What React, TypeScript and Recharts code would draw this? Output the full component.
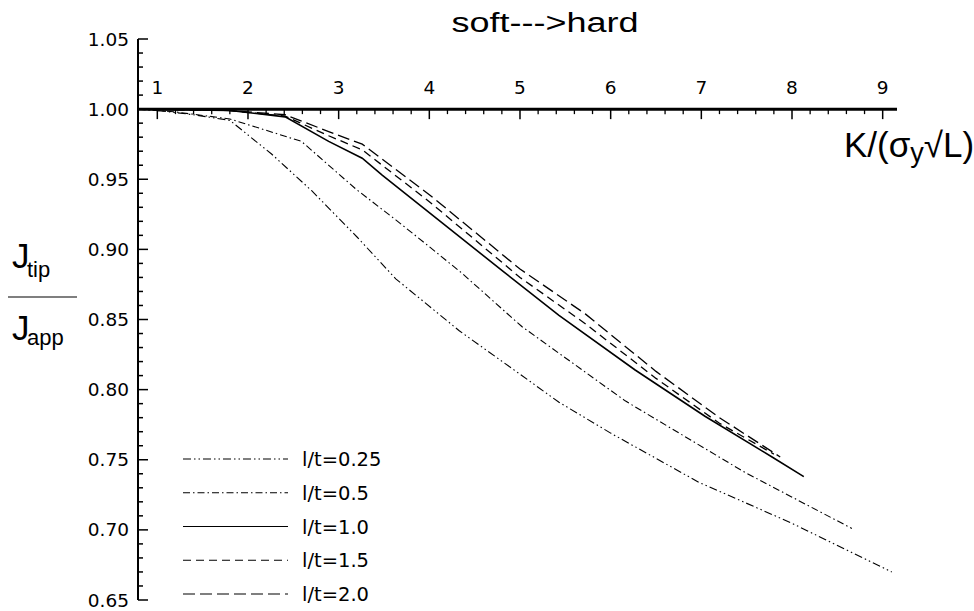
import React from 'react';
import { LineChart, Line, XAxis, YAxis, ReferenceLine, Legend } from 'recharts';

const W = 974;
const H = 611;
const INK = '#000';
const TICK_FONT = '"DejaVu Sans", sans-serif';
const LABEL_FONT = '"Liberation Sans", Arial, sans-serif';

// x axis (drawn along y = 1.00)
const X_MAJOR = [1, 2, 3, 4, 5, 6, 7, 8, 9];
const X_DOMAIN = [0.787, 9.158];
const Y_DOMAIN = [0.65, 1.05];

// series
const LT025_X = [0.787, 1.0, 1.4, 1.8, 2.26, 2.7, 3.2, 3.63, 4.33, 5.0, 5.43, 6.0, 6.97, 7.99, 9.1];
const LT025_Y = [1.0, 0.999, 0.996, 0.992, 0.968, 0.942, 0.909, 0.879, 0.842, 0.811, 0.791, 0.769, 0.734, 0.705, 0.67];

const LT05_X = [0.787, 1.2, 1.8, 2.59, 3.19, 3.63, 3.96, 4.36, 5.02, 6.16, 7.48, 8.66];
const LT05_Y = [1.0, 0.998, 0.993, 0.977, 0.943, 0.921, 0.904, 0.883, 0.845, 0.792, 0.741, 0.701];

const LT10_X = [0.787, 1.8, 2.41, 2.89, 3.26, 3.48, 4.8, 5.43, 6.27, 7.04, 7.78, 8.13];
const LT10_Y = [1.0, 0.999, 0.9945, 0.977, 0.965, 0.953, 0.885, 0.853, 0.814, 0.781, 0.752, 0.738];

const LT15_X = [0.787, 1.8, 2.41, 2.89, 3.26, 4.0, 5.0, 5.72, 6.5, 7.2, 7.8];
const LT15_Y = [1.0, 0.999, 0.995, 0.981, 0.971, 0.934, 0.88, 0.847, 0.808, 0.776, 0.754];

const LT20_X = [0.787, 1.8, 2.41, 2.89, 3.26, 4.0, 5.0, 5.72, 6.5, 7.2, 7.87];
const LT20_Y = [1.0, 0.999, 0.996, 0.984, 0.975, 0.939, 0.886, 0.854, 0.813, 0.78, 0.752];

const zip = (xs: number[], ys: number[]) => xs.map((x, i) => ({ x, y: ys[i] }));

const SERIES = [
  { name: 'l/t=0.25', data: zip(LT025_X, LT025_Y), dash: '8 3 1.5 3 1.5 3', width: 1.1 },
  { name: 'l/t=0.5', data: zip(LT05_X, LT05_Y), dash: '7 3 1.5 3', width: 1.1 },
  { name: 'l/t=1.0', data: zip(LT10_X, LT10_Y), dash: undefined, width: 1.6 },
  { name: 'l/t=1.5', data: zip(LT15_X, LT15_Y), dash: '8 5', width: 1.3 },
  { name: 'l/t=2.0', data: zip(LT20_X, LT20_Y), dash: '12 5', width: 1.3 },
];

// tick positions for the axes
const Y_TICKS: number[] = [];
for (let i = 65; i <= 105; i++) Y_TICKS.push(i / 100);
const X_MINOR: number[] = [];
for (let i = 6; i <= 44; i++) if (i % 5 !== 0) X_MINOR.push(i / 5);

// pixel length of tick marks converted to y units (561px plot height / 0.4)
const PX_Y = 0.4 / 561;

function YTick(props: any) {
  const { x, y, payload } = props;
  const v = payload.value;
  const major = Math.round(v * 100) % 5 === 0;
  return (
    <g>
      <line x1={x} x2={x + (major ? 10 : 5)} y1={y} y2={y} stroke="#000" strokeWidth={1.5} />
      {major && (
        <text x={x - 9} y={y + 6.5} textAnchor="end" fontFamily={TICK_FONT} fontSize={18.5} fill={INK}>
          {v.toFixed(2)}
        </text>
      )}
    </g>
  );
}

function LegendBox(props: any) {
  const items = props.payload || [];
  return (
    <svg width={240} height={160}>
      {items.map((it: any, i: number) => {
        const s = SERIES.find((d) => d.name === it.value) || SERIES[i];
        const cy = 10 + i * 33.75;
        return (
          <g key={s.name}>
            <line x1={0} x2={105} y1={cy} y2={cy} stroke={INK} strokeWidth={1.2} strokeDasharray={s.dash} />
            <text x={119} y={cy + 7} fontFamily={TICK_FONT} fontSize={19.5} fill={INK}>
              {s.name}
            </text>
          </g>
        );
      })}
    </svg>
  );
}

export default function App() {
  return (
    <div style={{ position: 'absolute', left: 0, top: 0, width: W, height: H, background: '#fff' }}>
      <LineChart width={W} height={H} margin={{ top: 39, right: 77, bottom: 11, left: 0 }}>
        <XAxis type="number" dataKey="x" domain={X_DOMAIN} allowDataOverflow hide />
        <YAxis
          type="number"
          domain={Y_DOMAIN}
          ticks={Y_TICKS}
          interval={0}
          width={138}
          tickSize={0}
          tickMargin={0}
          tickLine={false}
          tick={<YTick />}
          axisLine={{ stroke: '#000', strokeWidth: 2 }}
          allowDataOverflow
        />
        <ReferenceLine y={1} stroke="#000" strokeWidth={3} />
        {X_MINOR.map((v) => (
          <ReferenceLine
            key={'m' + v}
            segment={[{ x: v, y: 1 }, { x: v, y: 1 - 5 * PX_Y }]}
            stroke="#000"
            strokeWidth={1.3}
          />
        ))}
        {X_MAJOR.map((v) => (
          <ReferenceLine
            key={'M' + v}
            segment={[{ x: v, y: 1 }, { x: v, y: 1 - 10 * PX_Y }]}
            stroke="#000"
            strokeWidth={1.5}
            label={{ value: String(v), position: 'top', offset: 15, fill: INK, fontSize: 18.5, fontFamily: TICK_FONT }}
          />
        ))}
        {SERIES.map((s) => (
          <Line
            key={s.name}
            name={s.name}
            data={s.data}
            dataKey="y"
            type="linear"
            stroke={INK}
            strokeWidth={s.width}
            strokeDasharray={s.dash}
            dot={false}
            isAnimationActive={false}
          />
        ))}
        <Legend
          layout="horizontal"
          verticalAlign="middle"
          align="center"
          content={<LegendBox />}
          wrapperStyle={{ left: 183, top: 449, width: 240, height: 160 }}
        />
      </LineChart>
      <svg width={W} height={H} style={{ position: 'absolute', left: 0, top: 0, pointerEvents: 'none' }}>
        <text x={545} y={32} textAnchor="middle" fontFamily={LABEL_FONT} fontSize={27} fill={INK} textLength={187} lengthAdjust="spacingAndGlyphs">
          soft---&gt;hard
        </text>
        <text x={844} y={157} fontFamily={LABEL_FONT} fontSize={35} fill={INK}>
          K/(σ<tspan fontSize={27} dy={5}>y</tspan><tspan dy={-5}>√L)</tspan>
        </text>
        <text x={12} y={268} fontFamily={LABEL_FONT} fontSize={35} fill={INK}>J</text>
        <text x={27} y={277} fontFamily={LABEL_FONT} fontSize={22} fill={INK}>tip</text>
        <line x1={8} x2={77} y1={297} y2={297} stroke={INK} strokeWidth={1.2} />
        <text x={12} y={340} fontFamily={LABEL_FONT} fontSize={35} fill={INK}>J</text>
        <text x={27} y={345} fontFamily={LABEL_FONT} fontSize={22} fill={INK}>app</text>
      </svg>
    </div>
  );
}
